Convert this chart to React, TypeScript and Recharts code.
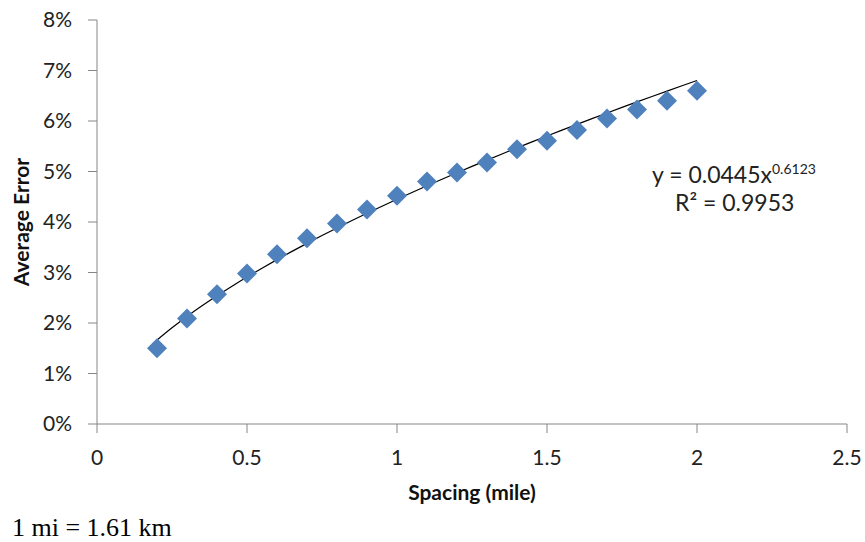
import React from "react";
import {
  ComposedChart,
  Scatter,
  Line,
  XAxis,
  YAxis,
  Label,
} from "recharts";

// Measured average error against station spacing
const spacingMiles = [0.2, 0.3, 0.4, 0.5, 0.6, 0.7, 0.8, 0.9, 1.0, 1.1, 1.2, 1.3, 1.4, 1.5, 1.6, 1.7, 1.8, 1.9, 2.0];
const averageError = [
  0.0150, 0.0209, 0.0257, 0.0298, 0.0336, 0.0368, 0.0397, 0.0425, 0.0452, 0.0480,
  0.0498, 0.0518, 0.0544, 0.0561, 0.0582, 0.0605, 0.0623, 0.0640, 0.0660,
];

// Power-law fit y = a * x^b, as printed next to the curve
const fitA = 0.0445;
const fitB = 0.6123;
const fitLabel = "y = 0.0445x";
const fitExponent = "0.6123";
const fitR2 = "R² = 0.9953";

const xTicks = [0, 0.5, 1, 1.5, 2, 2.5];
const yTicks = [0, 0.01, 0.02, 0.03, 0.04, 0.05, 0.06, 0.07, 0.08];

const points = spacingMiles.map((x, i) => ({ x, y: averageError[i] }));

// Fitted curve sampled across the measured spacing range
const trendXs: number[] = [];
for (let i = 0; i <= 36; i++) trendXs.push(0.2 + (i * (2.0 - 0.2)) / 36);
const trend = trendXs.map((x) => ({ x, y: fitA * Math.pow(x, fitB) }));

const FONT = "Lato, 'Noto Sans', sans-serif";
const AXIS_COLOR = "#868686";
const MARKER = "#4F81BD";

const Diamond = (props: any) => {
  const { cx, cy } = props;
  if (cx == null || cy == null) return null;
  const r = 10;
  return (
    <polygon
      points={`${cx},${cy - r} ${cx + r},${cy} ${cx},${cy + r} ${cx - r},${cy}`}
      fill={MARKER}
    />
  );
};

export default function App() {
  return (
    <div style={{ position: "absolute", left: 0, top: 0, width: 865, height: 542, background: "#fff" }}>
      <ComposedChart
        width={865}
        height={542}
        margin={{ top: 20, right: 18, bottom: 58, left: 37 }}
      >
        <XAxis
          type="number"
          dataKey="x"
          domain={[0, 2.5]}
          ticks={xTicks}
          allowDataOverflow
          height={60}
          stroke={AXIS_COLOR}
          tickSize={9}
          tickMargin={17}
          tick={{ fill: "#222", fontSize: 21, fontFamily: FONT }}
          tickFormatter={(v: number) => String(v)}
        >
          <Label
            value="Spacing (mile)"
            position="insideBottom"
            offset={-16}
            style={{ fill: "#111", fontSize: 21, fontWeight: 700, fontFamily: FONT }}
          />
        </XAxis>
        <YAxis
          type="number"
          domain={[0, 0.08]}
          ticks={yTicks}
          allowDataOverflow
          width={60}
          stroke={AXIS_COLOR}
          tickSize={9}
          tickMargin={16}
          tick={{ fill: "#222", fontSize: 21, fontFamily: FONT }}
          tickFormatter={(v: number) => `${Math.round(v * 100)}%`}
        >
          <Label
            value="Average Error"
            angle={-90}
            position="insideLeft"
            offset={-15}
            style={{ textAnchor: "middle", fill: "#111", fontSize: 21, fontWeight: 700, fontFamily: FONT }}
          />
        </YAxis>
        <Scatter
          data={points}
          dataKey="y"
          shape={<Diamond />}
          isAnimationActive={false}
        />
        <Line
          data={trend}
          dataKey="y"
          type="monotone"
          stroke="#000"
          strokeWidth={1.2}
          dot={false}
          activeDot={false}
          isAnimationActive={false}
        />
        <text x={652} y={183} fontFamily={FONT} fontSize={23} fill="#222">
          {fitLabel}
          <tspan dy={-9} fontSize={14}>{fitExponent}</tspan>
        </text>
        <text x={675} y={211} fontFamily={FONT} fontSize={23} fill="#222">
          {fitR2}
        </text>
      </ComposedChart>
      <div
        style={{
          position: "absolute",
          left: 12,
          top: 513,
          fontFamily: "'Liberation Serif', 'Times New Roman', serif",
          fontSize: 26,
          lineHeight: "30px",
          color: "#000",
          whiteSpace: "nowrap",
        }}
      >
        1 mi = 1.61 km
      </div>
    </div>
  );
}
